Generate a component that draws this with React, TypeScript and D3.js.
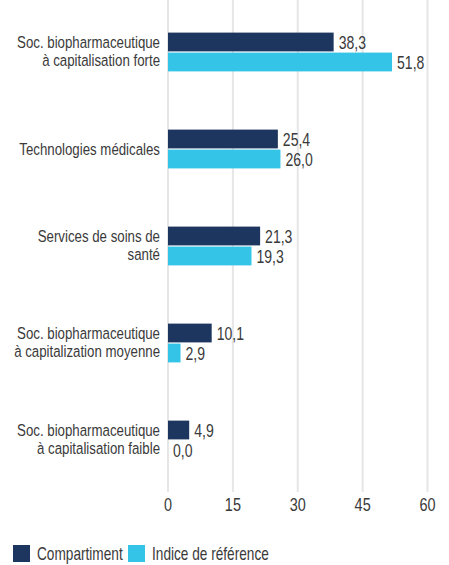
import React, { useEffect, useRef } from 'react';
import * as d3 from 'd3';

const categories = [
  ['Soc. biopharmaceutique', 'à capitalisation forte'],
  ['Technologies médicales'],
  ['Services de soins de', 'santé'],
  ['Soc. biopharmaceutique', 'à capitalization moyenne'],
  ['Soc. biopharmaceutique', 'à capitalisation faible'],
];
const compartiment = [38.3, 25.4, 21.3, 10.1, 4.9];
const indice = [51.8, 26.0, 19.3, 2.9, 0.0];
const seriesNames = ['Compartiment', 'Indice de référence'];
const seriesColors = ['#1c365f', '#34c4e8'];
const ticks = [0, 15, 30, 45, 60];

// no condensed face installed: squeeze a regular one horizontally
const FONT = '"Liberation Sans", Arial, sans-serif';
const SQUEEZE = 0.78;
const TEXT = '#3a3a3a';

type Sel = d3.Selection<SVGGElement, unknown, null, undefined>;

const addText = (
  parent: Sel,
  x: number,
  y: number,
  size: number,
  anchor: string,
  str: string,
) => {
  parent.append('g')
    .attr('transform', `translate(${x},${y}) scale(${SQUEEZE},1)`)
    .append('text')
    .attr('text-anchor', anchor)
    .style('font-family', FONT)
    .style('font-size', `${size}px`)
    .style('fill', TEXT)
    .text(str);
};

const App: React.FC = () => {
  const svgRef = useRef<SVGSVGElement>(null);

  useEffect(() => {
    if (!svgRef.current) return;
    const svg = d3.select(svgRef.current);
    svg.selectAll('*').remove();

    const width = 449;
    const height = 565;
    const plotTop = 0;
    const plotBottom = 492;

    const x = d3.scaleLinear().domain([0, 60]).range([168, 427.5]);
    const keys = categories.map((_, i) => String(i));
    const y = d3.scaleBand<string>()
      .domain(keys)
      .range([plotTop, plotBottom])
      .paddingInner(0.6)
      .paddingOuter(0.336);
    const inner = d3.scaleBand<number>()
      .domain([0, 1])
      .range([0, y.bandwidth()])
      .paddingInner(0.06);

    svg.attr('width', width).attr('height', height);
    const root = svg.append('g') as unknown as Sel;

    // grid
    root.append('g')
      .selectAll('line')
      .data(ticks)
      .enter()
      .append('line')
      .attr('x1', d => x(d))
      .attr('x2', d => x(d))
      .attr('y1', plotTop)
      .attr('y2', plotBottom)
      .attr('stroke', '#e6e6e6')
      .attr('stroke-width', 2);

    // tick labels
    const tickG = root.append('g') as Sel;
    ticks.forEach(t => addText(tickG, x(t), 511, 18.5, 'middle', String(t)));

    const series = [compartiment, indice];
    const fmt = (v: number) => v.toFixed(1).replace('.', ',');

    series.forEach((vals, si) => {
      const g = root.append('g') as Sel;
      g.selectAll('rect')
        .data(vals)
        .enter()
        .append('rect')
        .attr('x', x(0))
        .attr('y', (_, i) => (y(keys[i]) ?? 0) + (inner(si) ?? 0))
        .attr('width', d => x(d) - x(0))
        .attr('height', inner.bandwidth())
        .attr('fill', seriesColors[si]);

      vals.forEach((v, i) => {
        const cy = (y(keys[i]) ?? 0) + (inner(si) ?? 0) + inner.bandwidth() / 2;
        addText(g, x(v) + 5, cy + 6.8, 18, 'start', fmt(v));
      });
    });

    // category labels
    const labels = root.append('g') as Sel;
    categories.forEach((lines, i) => {
      const cy = (y(keys[i]) ?? 0) + y.bandwidth() / 2;
      lines.forEach((ln, li) => {
        const by = cy + 6 + (li - (lines.length - 1) / 2) * 18.3 - (lines.length > 1 ? 1 : 0);
        addText(labels, 160, by, 17, 'end', ln);
      });
    });

    // legend
    const legendX = [13, 128];
    const legend = root.append('g') as Sel;
    seriesNames.forEach((name, i) => {
      legend.append('rect')
        .attr('x', legendX[i])
        .attr('y', 545)
        .attr('width', 17)
        .attr('height', 17)
        .attr('fill', seriesColors[i]);
      addText(legend, legendX[i] + 24, 560, 17.5, 'start', name);
    });
  }, []);

  return (
    <svg
      ref={svgRef}
      style={{ position: 'absolute', left: 0, top: 0, display: 'block' }}
      role="img"
      aria-label="Répartition par sous-secteur"
    />
  );
};

export default App;
